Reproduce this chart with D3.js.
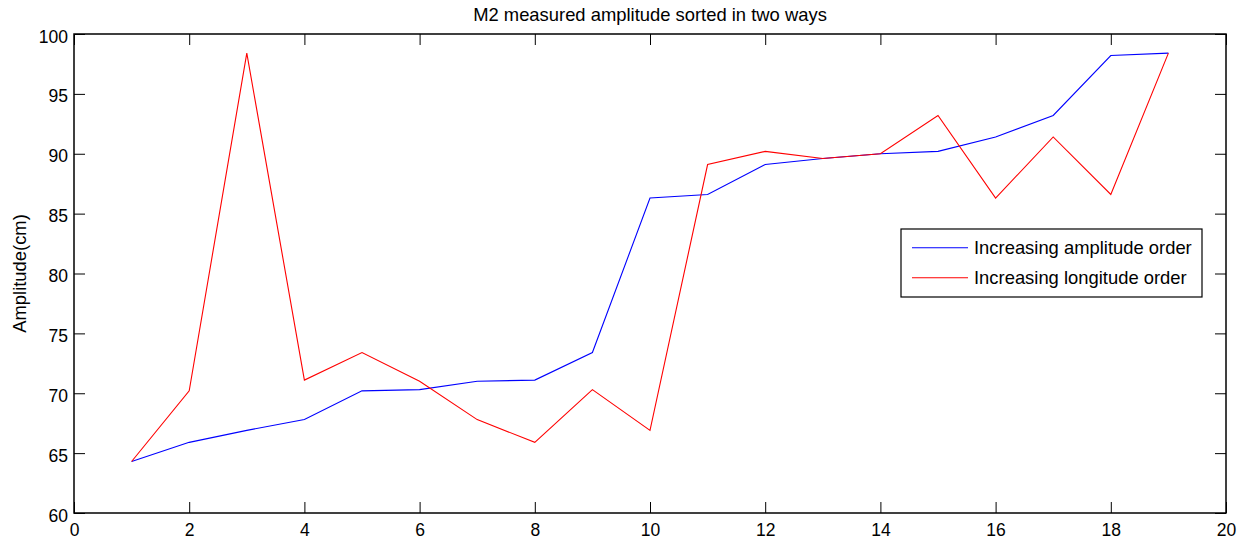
<!DOCTYPE html>
<html>
<head>
<meta charset="utf-8">
<script src="https://cdn.jsdelivr.net/npm/d3@7"></script>
<style>
  body { margin: 0; background: #fff; }
  text { font-family: "Liberation Sans", Arial, sans-serif; }
</style>
</head>
<body>
<svg id="chart" width="1251" height="544"></svg>
<script>
// data
let xValues = [1, 2, 3, 4, 5, 6, 7, 8, 9, 10, 11, 12, 13, 14, 15, 16, 17, 18, 19];
let amplitudeOrder = [64.3, 65.9, 66.9, 67.8, 70.2, 70.3, 71.0, 71.1, 73.4, 86.3, 86.6, 89.1, 89.6, 90.0, 90.2, 91.4, 93.2, 98.2, 98.4];
let longitudeOrder = [64.3, 70.2, 98.4, 71.1, 73.4, 71.0, 67.8, 65.9, 70.3, 66.9, 89.1, 90.2, 89.6, 90.0, 93.2, 86.3, 91.4, 86.6, 98.4];
let xTicks = [0, 2, 4, 6, 8, 10, 12, 14, 16, 18, 20];
let yTicks = [60, 65, 70, 75, 80, 85, 90, 95, 100];
let seriesNames = ["Increasing amplitude order", "Increasing longitude order"];
let seriesColors = ["#0000ff", "#ff0000"];

let margin = {left: 74, top: 34, right: 25, bottom: 31};
let width = 1251, height = 544;
let viewWidth = width - margin.left - margin.right;
let viewHeight = height - margin.top - margin.bottom;

let svg = d3.select("#chart");
let g = svg.append("g").attr("transform", `translate(${margin.left},${margin.top})`);

let x = d3.scaleLinear().domain([0, 20]).range([0, viewWidth]);
let y = d3.scaleLinear().domain([60, 100]).range([viewHeight, 0]);

let tickLen = 11;

// axes with inward ticks (matlab style box)
function styleAxis(sel) {
    sel.select(".domain").remove();
    sel.selectAll("line").attr("stroke", "#000").attr("stroke-width", 1);
    sel.selectAll("text").attr("fill", "#000").style("font-size", "17.5px");
}

g.append("g")
 .attr("transform", `translate(0,${viewHeight})`)
 .call(d3.axisBottom(x).tickValues(xTicks).tickSizeInner(-tickLen).tickSizeOuter(0))
 .call(styleAxis)
 .call(a => a.selectAll("text").attr("y", 22.5).attr("dy", 0));

g.append("g")
 .call(d3.axisTop(x).tickValues(xTicks).tickSizeInner(-tickLen).tickSizeOuter(0).tickFormat(""))
 .call(styleAxis);

g.append("g")
 .call(d3.axisLeft(y).tickValues(yTicks).tickSizeInner(-tickLen).tickSizeOuter(0))
 .call(styleAxis)
 .call(a => a.selectAll("text").attr("x", -6).attr("dy", "0.46em"));

g.append("g")
 .attr("transform", `translate(${viewWidth},0)`)
 .call(d3.axisRight(y).tickValues(yTicks).tickSizeInner(-tickLen).tickSizeOuter(0).tickFormat(""))
 .call(styleAxis);

// box
g.append("rect")
 .attr("width", viewWidth)
 .attr("height", viewHeight)
 .attr("fill", "none")
 .attr("stroke", "#000")
 .attr("stroke-width", 1.5);

// lines
let line = d3.line().x((d, i) => x(xValues[i])).y(d => y(d));

[amplitudeOrder, longitudeOrder].forEach((s, i) => {
    g.append("path")
     .datum(s)
     .attr("d", line)
     .attr("fill", "none")
     .attr("stroke", seriesColors[i])
     .attr("stroke-width", 1.1);
});

// title
svg.append("text")
   .attr("x", margin.left + viewWidth / 2)
   .attr("y", 21)
   .attr("text-anchor", "middle")
   .style("font-size", "18.4px")
   .text("M2 measured amplitude sorted in two ways");

// y label
svg.append("text")
   .attr("transform", `translate(26,${margin.top + viewHeight / 2}) rotate(-90)`)
   .attr("text-anchor", "middle")
   .style("font-size", "18.4px")
   .text("Amplitude(cm)");

// legend
let legend = svg.append("g").attr("transform", "translate(901,229)");
legend.append("rect")
      .attr("width", 301)
      .attr("height", 68)
      .attr("fill", "#fff")
      .attr("stroke", "#000")
      .attr("stroke-width", 1.2);

seriesNames.forEach((name, i) => {
    let rowY = 18.7 + i * 30;
    legend.append("line")
          .attr("x1", 11).attr("x2", 67)
          .attr("y1", rowY).attr("y2", rowY)
          .attr("stroke", seriesColors[i])
          .attr("stroke-width", 1.1);
    legend.append("text")
          .attr("x", 73)
          .attr("y", rowY + 6.5)
          .style("font-size", "18.4px")
          .text(name);
});
</script>
</body>
</html>
